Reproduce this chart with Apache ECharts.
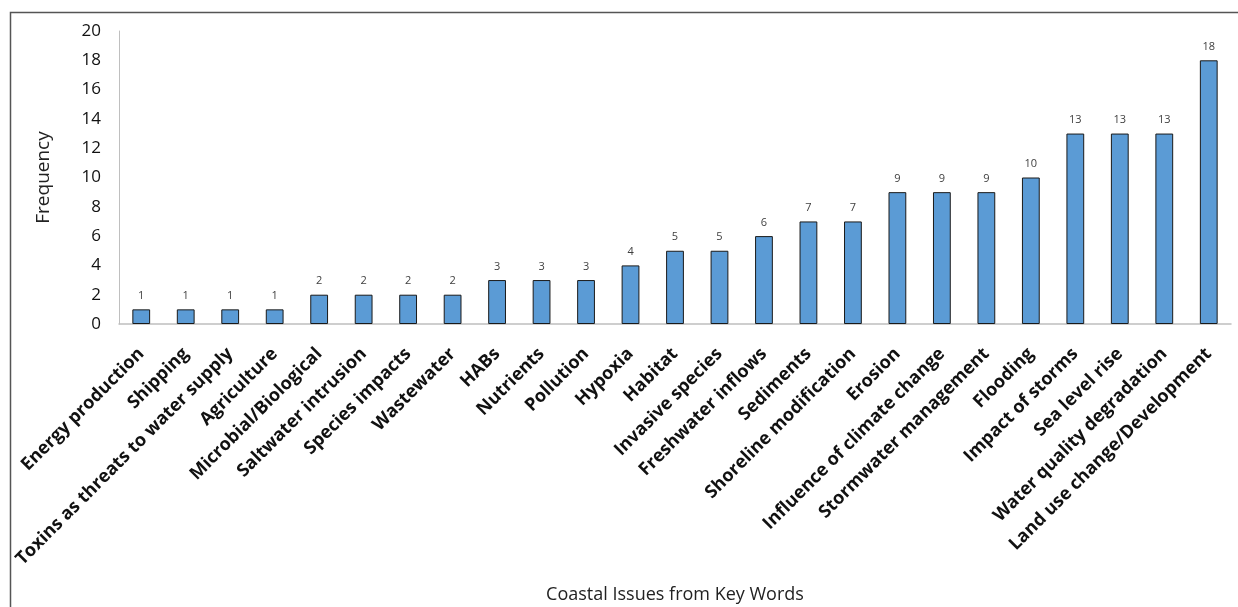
<!DOCTYPE html>
<html>
<head>
    <meta charset="utf-8" />
    <title>Coastal Issues from Key Words</title>
    <script src="https://cdn.jsdelivr.net/npm/echarts@6/dist/echarts.min.js"></script>
    <style>
        body { margin: 0; background: #ffffff; }
        #chart { width: 1238px; height: 607px; }
    </style>
</head>
<body>
<div id="chart"></div>
<script type="text/javascript">
    // categories (x axis), left to right
    var issues = [
        'Energy production', 'Shipping', 'Toxins as threats to water supply', 'Agriculture',
        'Microbial/Biological', 'Saltwater intrusion', 'Species impacts', 'Wastewater',
        'HABs', 'Nutrients', 'Pollution', 'Hypoxia', 'Habitat', 'Invasive species',
        'Freshwater inflows', 'Sediments', 'Shoreline modification', 'Erosion',
        'Influence of climate change', 'Stormwater management', 'Flooding',
        'Impact of storms', 'Sea level rise', 'Water quality degradation',
        'Land use change/Development'
    ];
    // frequency of each issue
    var frequency = [1, 1, 1, 1, 2, 2, 2, 2, 3, 3, 3, 4, 5, 5, 6, 7, 7, 9, 9, 9, 10, 13, 13, 13, 18];

    var myChart = echarts.init(document.getElementById('chart'), null, { renderer: 'canvas' });
    var option = {
        animation: false,
        backgroundColor: '#ffffff',
        textStyle: { fontFamily: 'Open Sans' },
        // outer frame like the original picture
        graphic: [{
            type: 'rect',
            shape: { x: 10.5, y: 12.5, width: 1240, height: 620 },
            style: { fill: 'none', stroke: '#555555', lineWidth: 1.5 },
            silent: true
        }],
        grid: {
            left: 119,
            right: 7,
            top: 31,
            bottom: 283,
            outerBoundsMode: 'none'
        },
        xAxis: {
            type: 'category',
            data: issues,
            name: 'Coastal Issues from Key Words',
            nameLocation: 'middle',
            nameGap: 262,
            nameTextStyle: { fontSize: 18, color: '#222222' },
            axisLine: { lineStyle: { color: '#bfbfbf', width: 1.5 } },
            axisTick: { show: false },
            axisLabel: {
                interval: 0,
                rotate: 45,
                margin: 27,
                fontSize: 18,
                fontWeight: 'bold',
                color: '#111111'
            }
        },
        yAxis: {
            type: 'value',
            min: 0,
            max: 20,
            interval: 2,
            name: 'Frequency',
            nameLocation: 'middle',
            nameRotate: 90,
            nameGap: 66,
            nameTextStyle: { fontSize: 19, color: '#222222' },
            axisLine: { show: true, lineStyle: { color: '#bfbfbf', width: 1 } },
            axisTick: { show: false },
            splitLine: { show: false },
            axisLabel: { fontSize: 17, color: '#111111', margin: 18 }
        },
        series: [{
            type: 'bar',
            data: frequency,
            barWidth: '40%',
            itemStyle: {
                color: '#5b9bd5',
                borderColor: '#1a1a1a',
                borderWidth: 1
            },
            label: {
                show: true,
                position: 'top',
                distance: 8,
                fontSize: 11,
                color: '#404040'
            }
        }]
    };
    myChart.setOption(option);
</script>
</body>
</html>
